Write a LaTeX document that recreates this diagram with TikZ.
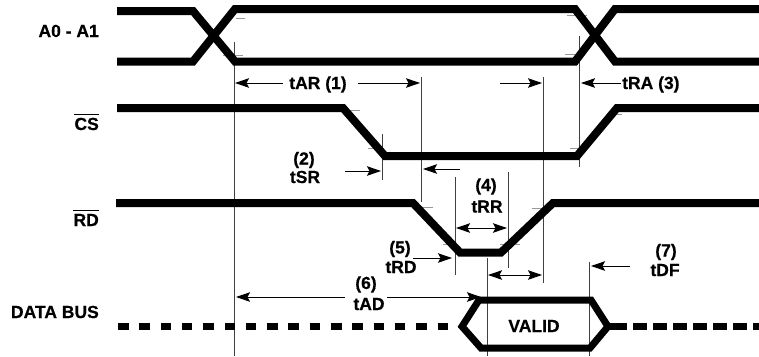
\documentclass[tikz,border=0pt]{standalone}
\usepackage{fontspec}
\setmainfont{Liberation Sans}
\newfontfamily\lblfont{Liberation Sans Bold}[FakeBold=0.6]
\usetikzlibrary{arrows.meta}
\begin{document}
\begin{tikzpicture}[x=1pt,y=-1pt,
  sig/.style={line width=8pt},
  bus/.style={line width=7pt},
  refl/.style={line width=1pt,black!75},
  tickl/.style={line width=1pt,black!40},
  tip/.tip={Stealth[length=14pt,width=9.5pt,inset=2.5pt]},
  arr/.style={line width=1pt,-tip},
  darr/.style={line width=1pt,tip-tip},
  lbl/.style={font=\lblfont\fontsize{17.5}{20}\selectfont,inner sep=0pt},
]
\useasboundingbox (0,0) rectangle (759,356);

% ---- signal labels
\node[lbl,anchor=base east] (la) at (99,37) {A0 - A1};
\node[lbl,anchor=base east] (lcs) at (99,130) {CS};
\node[lbl,anchor=base east] (lrd) at (99,226) {RD};
\node[lbl,anchor=base east] (ldb) at (99,318) {DATA BUS};
\draw[line width=1.3pt] ([yshift=3pt]lcs.north west) -- ([yshift=3pt]lcs.north east);
\draw[line width=1.3pt] ([yshift=3pt]lrd.north west) -- ([yshift=3pt]lrd.north east);

% ---- reference (vertical) lines
\draw[refl] (234,42) -- (234,356);
\draw[refl] (421,77) -- (421,202);
\draw[refl] (543,77) -- (543,283);
\draw[refl] (579,36) -- (579,167);
\draw[refl] (382,134) -- (382,180);
\draw[refl] (455,177) -- (455,275);
\draw[refl] (508,172) -- (508,268);
\draw[refl] (487,258) -- (487,356);
\draw[refl] (589,262) -- (589,356);

% ---- small transition ticks
\draw[tickl] (236,18) -- (245,18);
\draw[tickl] (223,55) -- (243,55);
\draw[tickl] (567,15) -- (587,15);
\draw[tickl] (565,54) -- (577,54);
\draw[tickl] (350,110) -- (360,110);
\draw[tickl] (368,148) -- (383,148);
\draw[tickl] (570,148) -- (578,148);
\draw[tickl] (610,114) -- (622,114);
\draw[tickl] (422,207) -- (433,207);
\draw[tickl] (443,244) -- (457,244);
\draw[tickl] (500,244) -- (520,244);
\draw[tickl] (532,208) -- (543,208);

% ---- A0 - A1
\draw[sig] (117,11) -- (193,11) -- (235,61.5) -- (575,61.5) -- (615,9) -- (760,9);
\draw[sig] (117,61.5) -- (193,61.5) -- (235,9) -- (575,9) -- (615,61.5) -- (760,61.5);

% ---- CS
\draw[sig] (117,108) -- (343,108) -- (385,156) -- (577,156) -- (617,108) -- (760,108);

% ---- RD
\draw[sig] (116,203) -- (413,203) -- (460,252.5) -- (501,252.5) -- (553,203) -- (760,203);

% ---- DATA BUS
\draw[bus,dash pattern=on 10.5pt off 10.8pt] (118,326.5) -- (452,326.5);
\draw[bus] (479,300) -- (591,300) -- (608,326.5) -- (590,348) -- (481,348) -- (462,326.5) -- cycle;
\draw[bus] (606,326.5) -- (626.5,326.5);
\draw[bus,dash pattern=on 13.5pt off 6.5pt] (633,326.5) -- (760,326.5);
\node[lbl,anchor=base] (valid) at (534,332) {VALID};

% ---- timing arrows and labels
\node[lbl,anchor=base] (tar) at (318,89) {tAR (1)};
\draw[arr] (283,83) -- (235,83);
\draw[arr] (358,83) -- (420,83);
\draw[arr] (500,83) -- (542,83);
\node[lbl,anchor=base west] (tra) at (622,89) {tRA (3)};
\draw[arr] (621,83) -- (581,83);

\node[lbl,anchor=base] (n2) at (304,164.5) {(2)};
\node[lbl,anchor=base] (tsr) at (305,183) {tSR};
\draw[arr] (345,171) -- (381,171);
\draw[arr] (460,169) -- (423,169);

\node[lbl,anchor=base] (n4) at (486,191) {(4)};
\node[lbl,anchor=base] (trr) at (487,212.5) {tRR};
\draw[darr] (456,228) -- (507,228);

\node[lbl,anchor=base] (n5) at (400,253.5) {(5)};
\node[lbl,anchor=base] (trd) at (401,273) {tRD};
\draw[arr] (413,258) -- (452,258);
\draw[darr] (488,275) -- (542,275);

\node[lbl,anchor=base] (n6) at (366,289) {(6)};
\node[lbl,anchor=base] (tad) at (369,310) {tAD};
\draw[arr] (345,297) -- (236,297);
\draw[arr] (387,297) -- (481,297);

\node[lbl,anchor=base] (n7) at (666,256.5) {(7)};
\node[lbl,anchor=base] (tdf) at (665,276) {tDF};
\draw[arr] (630,266) -- (591,266);
\end{tikzpicture}
\end{document}
